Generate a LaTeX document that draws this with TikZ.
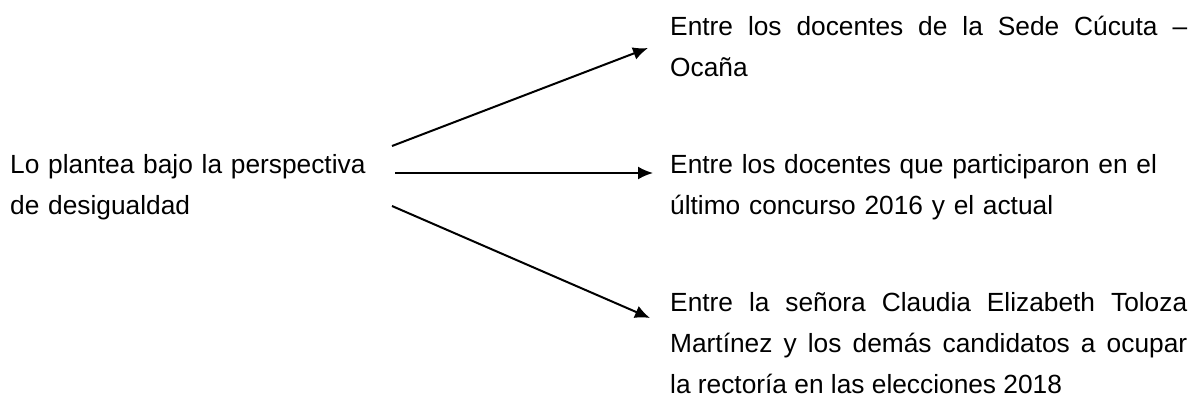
\documentclass[tikz,border=0pt]{standalone}
\usepackage{fontspec}
\setmainfont{Liberation Sans}
\usetikzlibrary{arrows.meta}
\tolerance=10000
\hyphenpenalty=10000

\begin{document}
\begin{tikzpicture}[
		x=1pt, y=-1pt,
		% Text of the blocks
		txt/.style={font=\fontsize{26.3}{41}\selectfont, inner sep=0pt, anchor=base west},
		causa/.style={txt, text width=360pt, align=left},
		efecto/.style={txt, text width=517pt, align=justify},
		% Arrows
		flecha/.style={line width=2pt, -{Latex[length=15pt, width=13pt]}}
		]
	\useasboundingbox (0,0) rectangle (1193,405);

	% Left side
	\node[causa] (causa) at (10,173) {Lo plantea bajo la perspectiva\\de desigualdad};

	% Right side
	\node[efecto] (ef1) at (670,35) {Entre los docentes de la Sede Cúcuta – Ocaña};
	\node[efecto, align=left] (ef2) at (670,173) {Entre los docentes que participaron en el último concurso 2016 y el actual};
	\node[efecto] (ef3) at (670,311) {Entre la señora Claudia Elizabeth Toloza Martínez y los demás candidatos a ocupar\linebreak la rectoría en las elecciones 2018};

	% Arrow ends
	\coordinate (o1) at (392,146);
	\coordinate (d1) at (648,48);
	\coordinate (o2) at (395,173);
	\coordinate (d2) at (653,173);
	\coordinate (o3) at (392,206);
	\coordinate (d3) at (650,318);

	\draw[flecha] (o1) -- (d1);
	\draw[flecha] (o2) -- (d2);
	\draw[flecha] (o3) -- (d3);
\end{tikzpicture}
\end{document}
